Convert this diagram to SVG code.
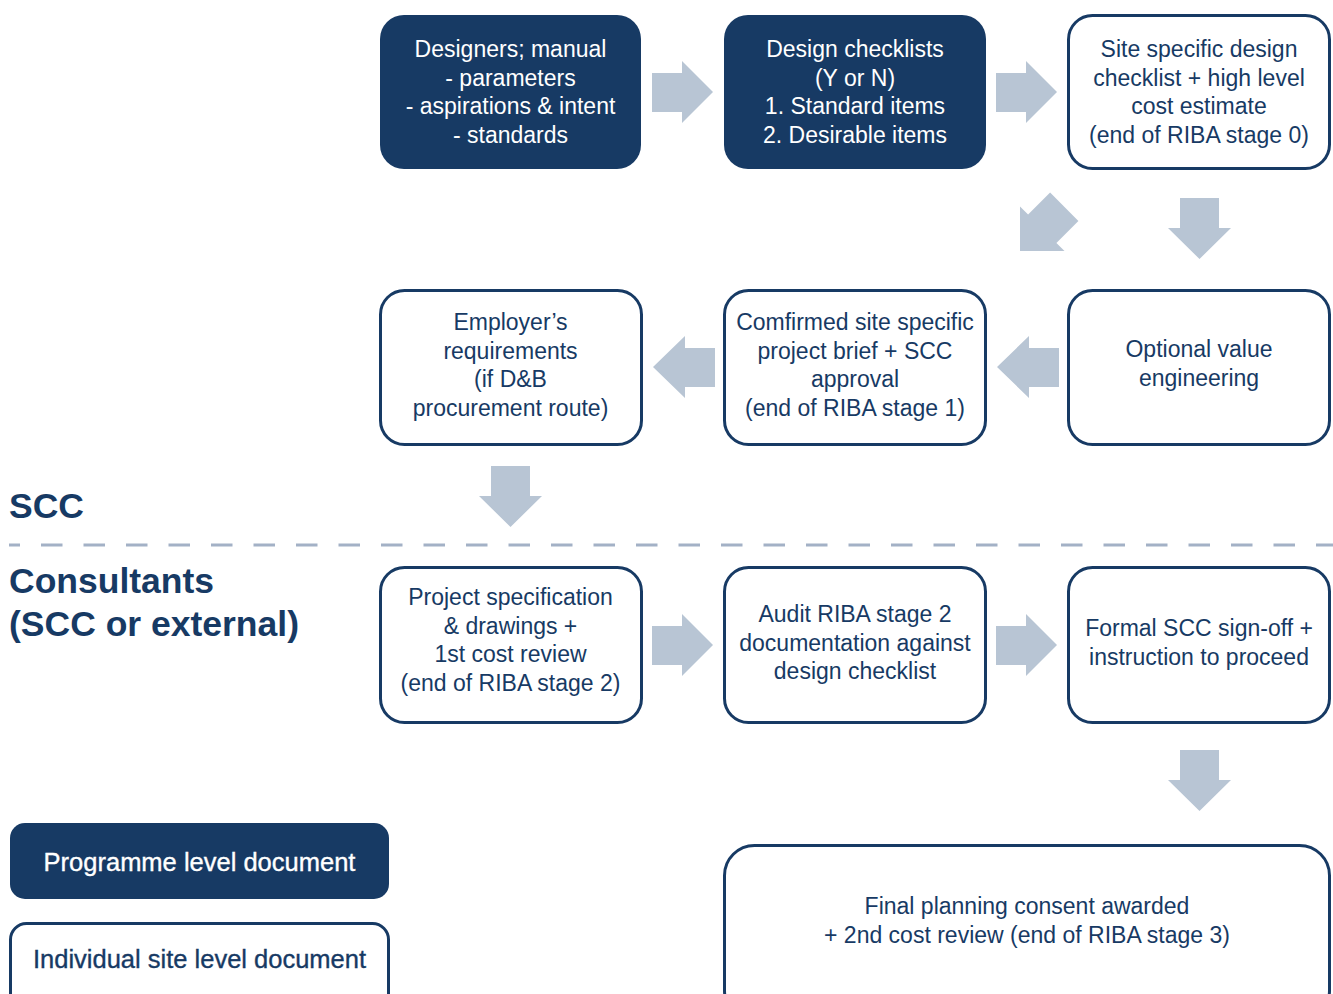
<svg xmlns="http://www.w3.org/2000/svg" width="1333" height="994" viewBox="0 0 1333 994">
<style>
.bg{fill:#ffffff}
.dark{fill:#173a64}
.light{fill:#ffffff;stroke:#173a64;stroke-width:3}
.arr{fill:#b8c5d4}
text{font-family:"Liberation Sans",Arial,Helvetica,sans-serif;text-anchor:middle}
.t{font-size:23px}
.w{fill:#ffffff}
.n{fill:#173a64}
.lg{font-size:25.5px;stroke-width:0.35px}
.lg.w{stroke:#ffffff}
.lg.n{stroke:#173a64}
.title{font-size:35.5px;font-weight:bold;fill:#173a64;text-anchor:start}
</style>
<rect class="bg" x="0" y="0" width="1333" height="994"/>
<g id="divider">
<line x1="9" y1="545" x2="1333" y2="545" stroke="#a3b1c6" stroke-width="3" stroke-dasharray="21.5 21" stroke-dashoffset="10.5"/>
</g>
<g id="labels">
<text class="title" x="9" y="518">SCC</text>
<text class="title" x="9" y="593">Consultants</text>
<text class="title" x="9" y="636">(SCC or external)</text>
</g>
<g id="connectors">
<polygon class="arr" points="652,73 682,73 682,61 713,92 682,123 682,112 652,112"/>
<polygon class="arr" points="996,73 1026,73 1026,61 1057,92 1026,123 1026,112 996,112"/>
<polygon class="arr" points="1180,198 1219,198 1219,228 1231,228 1199.5,259 1168,228 1180,228"/>
<polygon class="arr" points="1020,206.5 1028.1,214.6 1050.1,192.6 1078.4,220.9 1056.4,242.9 1064.5,251 1020,251"/>
<polygon class="arr" points="997,367 1029,336 1029,348 1059,348 1059,387 1029,387 1029,398"/>
<polygon class="arr" points="653,367 685,336 685,348 715,348 715,387 685,387 685,398"/>
<polygon class="arr" points="491,466 530,466 530,496 542,496 510.5,527 479,496 491,496"/>
<polygon class="arr" points="652,626 682,626 682,614 713,645 682,676 682,665 652,665"/>
<polygon class="arr" points="996,626 1026,626 1026,614 1057,645 1026,676 1026,665 996,665"/>
<polygon class="arr" points="1180,750 1219,750 1219,780 1231,780 1199.5,811 1168,780 1180,780"/>
</g>
<g id="designers">
<rect class="dark" x="380" y="15" width="261" height="154" rx="24"/>
<text class="t w" x="510.5" y="57">Designers; manual</text>
<text class="t w" x="510.5" y="85.5">- parameters</text>
<text class="t w" x="510.5" y="114">- aspirations &amp; intent</text>
<text class="t w" x="510.5" y="142.5">- standards</text>
</g>
<g id="checklists">
<rect class="dark" x="724" y="15" width="262" height="154" rx="24"/>
<text class="t w" x="855" y="57">Design checklists</text>
<text class="t w" x="855" y="85.5">(Y or N)</text>
<text class="t w" x="855" y="114">1. Standard items</text>
<text class="t w" x="855" y="142.5">2. Desirable items</text>
</g>
<g id="sitechecklist">
<rect class="light" x="1068.5" y="15.5" width="261" height="153" rx="24"/>
<text class="t n" x="1199" y="57">Site specific design</text>
<text class="t n" x="1199" y="85.5">checklist + high level</text>
<text class="t n" x="1199" y="114">cost estimate</text>
<text class="t n" x="1199" y="142.5">(end of RIBA stage 0)</text>
</g>
<g id="employer">
<rect class="light" x="380.5" y="290.5" width="261" height="154" rx="24"/>
<text class="t n" x="510.5" y="330">Employer’s</text>
<text class="t n" x="510.5" y="358.5">requirements</text>
<text class="t n" x="510.5" y="387">(if D&amp;B</text>
<text class="t n" x="510.5" y="415.5">procurement route)</text>
</g>
<g id="confirmed">
<rect class="light" x="724.5" y="290.5" width="261" height="154" rx="24"/>
<text class="t n" x="855" y="330">Comfirmed site specific</text>
<text class="t n" x="855" y="358.5">project brief + SCC</text>
<text class="t n" x="855" y="387">approval</text>
<text class="t n" x="855" y="415.5">(end of RIBA stage 1)</text>
</g>
<g id="valueeng">
<rect class="light" x="1068.5" y="290.5" width="261" height="154" rx="24"/>
<text class="t n" x="1199" y="357">Optional value</text>
<text class="t n" x="1199" y="385.5">engineering</text>
</g>
<g id="projectspec">
<rect class="light" x="380.5" y="567.5" width="261" height="155" rx="24"/>
<text class="t n" x="510.5" y="605">Project specification</text>
<text class="t n" x="510.5" y="633.5">&amp; drawings +</text>
<text class="t n" x="510.5" y="662">1st cost review</text>
<text class="t n" x="510.5" y="690.5">(end of RIBA stage 2)</text>
</g>
<g id="audit">
<rect class="light" x="724.5" y="567.5" width="261" height="155" rx="24"/>
<text class="t n" x="855" y="622">Audit RIBA stage 2</text>
<text class="t n" x="855" y="650.5">documentation against</text>
<text class="t n" x="855" y="679">design checklist</text>
</g>
<g id="signoff">
<rect class="light" x="1068.5" y="567.5" width="261" height="155" rx="24"/>
<text class="t n" x="1199" y="636">Formal SCC sign-off +</text>
<text class="t n" x="1199" y="664.5">instruction to proceed</text>
</g>
<g id="planning">
<rect class="light" x="724.5" y="845.5" width="605" height="175" rx="30"/>
<text class="t n" x="1027" y="914">Final planning consent awarded</text>
<text class="t n" x="1027" y="942.5">+ 2nd cost review (end of RIBA stage 3)</text>
</g>
<g id="legend-programme">
<rect class="dark" x="10" y="823" width="379" height="76" rx="15"/>
<text class="lg w" x="199.5" y="871">Programme level document</text>
</g>
<g id="legend-site">
<rect class="light" x="10.5" y="923.5" width="378" height="100" rx="16"/>
<text class="lg n" x="199.5" y="968">Individual site level document</text>
</g>
</svg>
